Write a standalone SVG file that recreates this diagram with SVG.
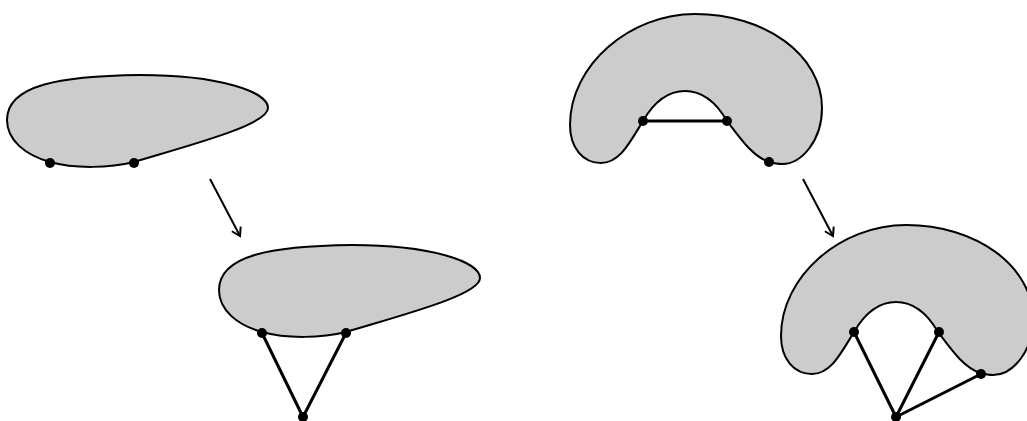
<svg xmlns="http://www.w3.org/2000/svg" width="1027" height="421" viewBox="0 0 1027 421">
<style>
.blob{fill:#cccccc;stroke:#000;stroke-width:2}
.edge{stroke:#000;stroke-width:3;fill:none;stroke-linecap:round}
.arr{stroke:#000;stroke-width:2;fill:none}
.dot{fill:#000}
</style>
<defs>
<path id="oval" d="M 7,120 C 7,85 60,76 140,75 C 220,75 268,92 268,108 C 268,125 190,145 134,162 C 110,168 75,169 50,162 C 25,155 7,140 7,120 Z"/>
<path id="cshape" d="M 601,163 C 583,163 570,148 570,125 C 570,65 630,14 695,14 C 765,14 822,55 822,108 C 822,140 802,164 782,164 C 777,164 773,163 769,162 C 752,156 740,138 727,121 C 716,102 702,91 685,91 C 668,91 654,102 643,121 C 630,142 620,163 601,163 Z"/>
<marker id="ah" markerWidth="12" markerHeight="12" refX="10" refY="6" orient="auto" markerUnits="userSpaceOnUse">
<path d="M 2,1 L 10,6 L 2,11" fill="none" stroke="#000" stroke-width="2"/>
</marker>
</defs>
<g id="shape1">
<use href="#oval" class="blob"/>
<circle class="dot" cx="50" cy="163" r="5"/>
<circle class="dot" cx="134" cy="163" r="5"/>
</g>
<g id="shape2" transform="translate(212,170)">
<use href="#oval" class="blob"/>
</g>
<g id="shape3">
<use href="#cshape" class="blob"/>
</g>
<g id="shape4" transform="translate(211,211)">
<use href="#cshape" class="blob"/>
</g>
<g id="connectors">
<line class="arr" x1="210" y1="179" x2="240" y2="236" marker-end="url(#ah)"/>
<line class="arr" x1="803" y1="179" x2="833" y2="236" marker-end="url(#ah)"/>
<line class="edge" x1="643" y1="121" x2="727" y2="121"/>
<line class="edge" x1="262" y1="333" x2="303" y2="417"/>
<line class="edge" x1="346" y1="333" x2="303" y2="417"/>
<line class="edge" x1="854" y1="332" x2="896" y2="417"/>
<line class="edge" x1="939" y1="332" x2="896" y2="417"/>
<line class="edge" x1="981" y1="374" x2="896" y2="417"/>
</g>
<g id="dots">
<circle class="dot" cx="643" cy="121" r="5"/>
<circle class="dot" cx="727" cy="121" r="5"/>
<circle class="dot" cx="769" cy="162" r="5"/>
<circle class="dot" cx="262" cy="333" r="5"/>
<circle class="dot" cx="346" cy="333" r="5"/>
<circle class="dot" cx="303" cy="417" r="5"/>
<circle class="dot" cx="854" cy="332" r="5"/>
<circle class="dot" cx="939" cy="332" r="5"/>
<circle class="dot" cx="981" cy="374" r="5"/>
<circle class="dot" cx="896" cy="417" r="5"/>
</g>
</svg>
